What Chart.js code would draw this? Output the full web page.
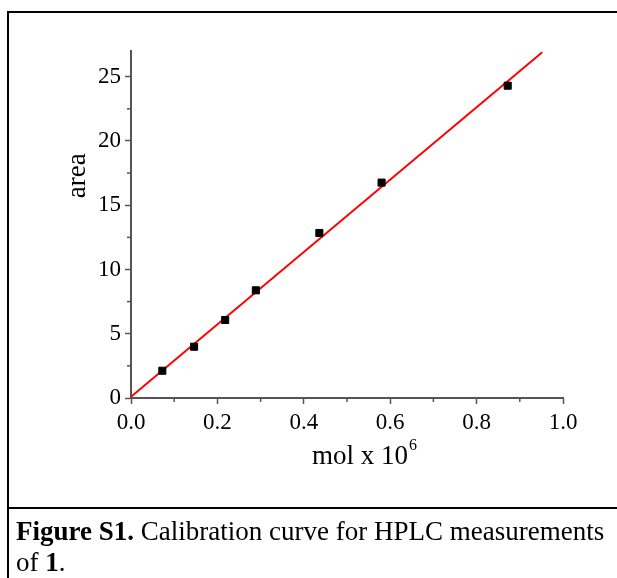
<!DOCTYPE html>
<html>
<head>
<meta charset="utf-8">
<script src="https://cdn.jsdelivr.net/npm/chart.js@4"></script>
<style>
  html, body { margin: 0; padding: 0; background: #fff; overflow: hidden; }
  #wrap { position: relative; width: 617px; height: 578px; }
  #chart { position: absolute; left: 0; top: 0; }
  .frame { position: absolute; left: 7px; top: 11px; width: 700px; height: 700px; border: 2px solid #000; }
  .sep { position: absolute; left: 7px; top: 507px; width: 700px; height: 2px; background: #000; }
  .caption { position: absolute; left: 16px; top: 516px; font: 27px "Liberation Serif", "Times New Roman", serif; line-height: 31px; color: #000; white-space: nowrap; }
</style>
</head>
<body>
<div id="wrap">
  <div class="frame"></div>
  <div class="sep"></div>
  <canvas id="chart" width="617" height="578"></canvas>
  <div class="caption"><b>Figure S1.</b> Calibration curve for HPLC measurements<br>of <b>1</b>.</div>
</div>
<script>
(function () {
    // measured points (mol x 10^6 vs peak area)
    var molValues = [0.0725, 0.146, 0.218, 0.289, 0.436, 0.580, 0.872];
    var areaValues = [2.12, 3.99, 6.07, 8.38, 12.84, 16.76, 24.30];

    // linear fit line end points
    var fitMol = [0, 0.952];
    var fitArea = [0.1, 26.9];

    var xTicks = [0, 0.2, 0.4, 0.6, 0.8, 1.0];
    var xMinorTicks = [0.1, 0.3, 0.5, 0.7, 0.9];
    var yTicks = [0, 5, 10, 15, 20, 25];
    var yMinorTicks = [2.5, 7.5, 12.5, 17.5, 22.5];

    var serif = '"Liberation Serif", "Times New Roman", serif';
    var axisColor = '#555';

    var toPoints = (xs, ys) => xs.map((x, i) => ({ x: x, y: ys[i] }));

    // minor ticks + axis titles
    var extras = {
        id: 'extras',
        afterDraw: (chart) => {
            var ctx = chart.ctx, xs = chart.scales.x, ys = chart.scales.y;
            var area = chart.chartArea;
            ctx.save();
            ctx.strokeStyle = axisColor;
            ctx.lineWidth = 1.5;
            xMinorTicks.forEach(v => {
                var px = xs.getPixelForValue(v);
                ctx.beginPath();
                ctx.moveTo(px, area.bottom);
                ctx.lineTo(px, area.bottom + 4);
                ctx.stroke();
            });
            yMinorTicks.forEach(v => {
                var py = ys.getPixelForValue(v);
                ctx.beginPath();
                ctx.moveTo(area.left, py);
                ctx.lineTo(area.left - 4, py);
                ctx.stroke();
            });

            ctx.fillStyle = '#000';
            // x title with superscript
            ctx.font = '27px ' + serif;
            ctx.textBaseline = 'alphabetic';
            var main = 'mol x 10';
            var w = ctx.measureText(main).width;
            ctx.font = '16px ' + serif;
            var sw = ctx.measureText('6').width;
            var cx = 364;
            var x0 = cx - (w + sw) / 2;
            var base = area.bottom + 66;
            ctx.font = '27px ' + serif;
            ctx.textAlign = 'left';
            ctx.fillText(main, x0, base);
            ctx.font = '16px ' + serif;
            ctx.fillText('6', x0 + w + 1, base - 14);

            // y title
            ctx.font = '27px ' + serif;
            ctx.translate(area.left - 53, ys.getPixelForValue(17.3));
            ctx.rotate(-Math.PI / 2);
            ctx.textAlign = 'center';
            ctx.textBaseline = 'middle';
            ctx.fillText('area', 0, 0);
            ctx.restore();
        }
    };

    var ctx = document.getElementById('chart').getContext('2d');
    new Chart(ctx, {
        type: 'scatter',
        data: {
            datasets: [{
                type: 'line',
                data: toPoints(fitMol, fitArea),
                borderColor: '#ff0000',
                borderWidth: 2,
                pointRadius: 0,
                fill: false,
                order: 2
            }, {
                data: toPoints(molValues, areaValues),
                backgroundColor: '#000',
                borderColor: '#000',
                pointStyle: 'rect',
                pointRadius: 5,
                order: 1
            }]
        },
        options: {
            responsive: false,
            animation: false,
            layout: { padding: { left: 0, right: 54, top: 51, bottom: 0 } },
            plugins: {
                legend: { display: false },
                tooltip: { enabled: false }
            },
            scales: {
                x: {
                    type: 'linear',
                    min: 0,
                    max: 1,
                    afterBuildTicks: (s) => { s.ticks = xTicks.map(v => ({ value: v })); },
                    afterFit: (s) => { s.height = 180; },
                    ticks: {
                        color: '#000',
                        font: { family: serif, size: 23 },
                        padding: 5,
                        maxRotation: 0,
                        callback: (v) => Number(v).toFixed(1)
                    },
                    grid: { drawOnChartArea: false, tickLength: 6, tickColor: axisColor, tickWidth: 1.5 },
                    border: { color: axisColor, width: 2 }
                },
                y: {
                    type: 'linear',
                    min: 0,
                    max: 27,
                    afterBuildTicks: (s) => { s.ticks = yTicks.map(v => ({ value: v })); },
                    afterFit: (s) => { s.width = 131; },
                    ticks: {
                        color: '#000',
                        font: { family: serif, size: 23 },
                        padding: 4,
                        callback: (v) => String(v)
                    },
                    grid: { drawOnChartArea: false, tickLength: 6, tickColor: axisColor, tickWidth: 1.5 },
                    border: { color: axisColor, width: 2 }
                }
            }
        },
        plugins: [extras]
    });
})();
</script>
</body>
</html>
